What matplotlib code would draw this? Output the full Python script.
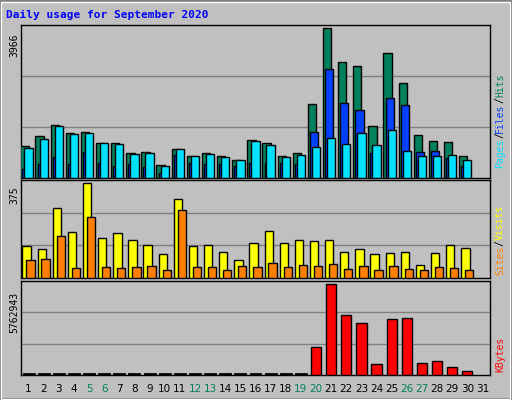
import matplotlib
matplotlib.use("Agg")
import matplotlib.pyplot as plt
from matplotlib.patches import Rectangle

days = list(range(1, 32))
weekend_days = [5, 6, 12, 13, 19, 20, 26, 27]

hits = [843, 1113, 1409, 1193, 1220, 924, 924, 655, 682, 332, 763, 574, 655, 574, 467,
        1005, 924, 574, 655, 1974, 3966, 3078, 2970, 1382, 3320, 2512, 1140, 978, 951, 574]
files = [250, 360, 550, 360, 680, 390, 330, 360, 280, 120, 600, 390, 360, 360, 310,
         390, 390, 390, 360, 1220, 2880, 1990, 1790, 650, 2130, 1940, 680, 710, 520, 330]
pages = [790, 1030, 1390, 1170, 1190, 930, 910, 630, 660, 310, 770, 580, 630, 550, 470,
         980, 870, 550, 600, 820, 1060, 910, 1190, 870, 1270, 710, 580, 580, 600, 470]

visits = [126, 114, 277, 183, 375, 160, 178, 151, 130, 94, 314, 126, 130, 101, 73,
          139, 185, 139, 151, 147, 151, 101, 114, 94, 98, 101, 53, 98, 130, 118]
sites = [73, 77, 167, 41, 243, 45, 41, 45, 49, 33, 269, 45, 45, 33, 49,
         45, 61, 45, 53, 49, 57, 37, 49, 33, 49, 37, 33, 45, 41, 33]

kbytes = [0] * 19 + [1787000, 5762943, 3806000, 3301000, 714000, 3553000, 3616000, 778000, 904000, 526000, 273000]

BG = "#C0C0C0"
fig = plt.figure(figsize=(5.12, 4.0), dpi=100, facecolor=BG)
W, H = 512, 400


def add_ax(x0, y0, x1, y1):
    ax = fig.add_axes([x0 / W, 1 - y1 / H, (x1 - x0) / W, (y1 - y0) / H])
    ax.set_facecolor(BG)
    ax.set_xlim(0.5, 31.5)
    ax.set_xticks([])
    ax.set_yticks([])
    for s in ax.spines.values():
        s.set_color("black")
        s.set_linewidth(1)
    return ax


def bars(ax, x, vals, color, width):
    ax.bar(x, vals, width=width, color=color, edgecolor="black", linewidth=1, zorder=3)


# top panel: hits / files / pages
ax1 = add_ax(21, 25, 490, 178)
top1 = 3966 * 452 / 442
ax1.set_ylim(0, top1)
for g in (top1 / 3, 2 * top1 / 3):
    ax1.axhline(g, color="#808080", linewidth=1, zorder=1)
n = len(hits)
bars(ax1, [d - 0.27 for d in days[:n]], hits, "#00805C", 0.55)
bars(ax1, [d - 0.13 for d in days[:n]], files, "#0040FF", 0.55)
bars(ax1, [d for d in days[:n]], pages, "#00E0FF", 0.55)

# middle panel: visits / sites
ax2 = add_ax(21, 180, 490, 278)
top2 = 375 * 285 / 276
ax2.set_ylim(0, top2)
for g in (top2 / 3, 2 * top2 / 3):
    ax2.axhline(g, color="#808080", linewidth=1, zorder=1)
bars(ax2, [d - 0.13 for d in days[:n]], visits, "#FFFF00", 0.55)
bars(ax2, [d + 0.13 for d in days[:n]], sites, "#FF8000", 0.55)

# bottom panel: kbytes
ax3 = add_ax(21, 281, 490, 375)
top3 = 5762943 * 282 / 274
ax3.set_ylim(0, top3)
for g in (top3 / 3, 2 * top3 / 3):
    ax3.axhline(g, color="#808080", linewidth=1, zorder=1)
for d, v in zip(days[:n], kbytes):
    if v > 0:
        bars(ax3, [d], [v], "#FF0000", 0.68)
    else:
        ax3.plot([d - 0.33, d + 0.33], [top3 * 0.012] * 2, color="black", linewidth=2, zorder=3)

# day labels
for d in days:
    fig.text((21 + (d - 0.5) * 469 / 31) / W, 1 - 389 / H, str(d), ha="center", va="center",
             fontsize=7.5, family="DejaVu Sans",
             color="#00805C" if d in weekend_days else "black")

# titles and side labels
fig.text(6 / W, 1 - 15 / H, "Daily usage for September 2020", color="#0000FF",
         fontsize=8, family="DejaVu Sans Mono", fontweight="bold", va="center")
for y, lab in ((45, "3966"), (195, "375"), (312, "5762943")):
    fig.text(14 / W, 1 - y / H, lab, rotation=90, ha="center", va="center",
             fontsize=7, family="DejaVu Sans Mono")


def side_label(parts, y_bottom):
    y = y_bottom
    for txt, col in parts:
        fig.text(500 / W, 1 - y / H, txt, rotation=90, ha="center", va="bottom",
                 fontsize=7, family="DejaVu Sans Mono", color=col)
        y -= len(txt) * 5.9


side_label([("Pages", "#00E0FF"), ("/", "black"), ("Files", "#0040FF"), ("/", "black"), ("Hits", "#00805C")], 168)
side_label([("Sites", "#FF8000"), ("/", "black"), ("Visits", "#FFFF00")], 275)
side_label([("KBytes", "#FF0000")], 372)

# bevel border
fig.add_artist(Rectangle((0, 0), 1, 1, transform=fig.transFigure, fill=False,
                         edgecolor="#808080", linewidth=3))
fig.add_artist(Rectangle((1 / W, 1 / H), 1 - 3 / W, 1 - 3 / H, transform=fig.transFigure,
                         fill=False, edgecolor="white", linewidth=1))

fig.savefig("out.png", dpi=100, facecolor=BG)
